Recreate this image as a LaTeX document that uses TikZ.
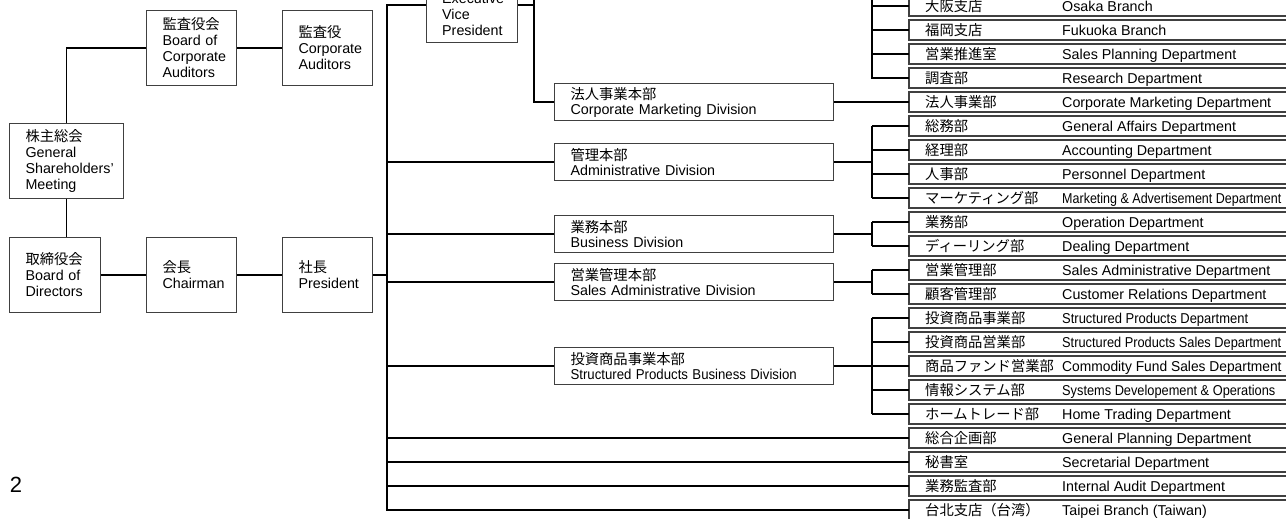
\documentclass[tikz,border=0pt]{standalone}
\usepackage{fontspec}
\setmainfont{Liberation Sans}
\newfontfamily\jp{Noto Sans CJK JP}
\hyphenpenalty=10000 \exhyphenpenalty=10000
\tikzset{
  conn/.style={line width=1.5pt, black},
  lbox/.style={draw=black!75, line width=1.1pt, inner xsep=16pt, inner ysep=0pt,
    minimum height=75pt, align=left, anchor=north west},
  dbox/.style={draw=black!75, line width=1.1pt, inner xsep=16pt, inner ysep=0pt,
    minimum height=37pt, text width=247pt, align=left, anchor=west,
    font=\fontsize{14.3}{15}\selectfont},
  rbox/.style={draw=black!75, line width=1.1pt, inner sep=0pt, outer sep=0pt, minimum width=420pt,
    minimum height=20pt, anchor=north west},
  rtxt/.style={inner sep=0pt, anchor=base west},
}
\begin{document}
\begin{tikzpicture}[x=1pt,y=-1pt, font=\fontsize{14.3}{16}\selectfont]
\useasboundingbox (0,0) rectangle (1286,519);
\clip (0,0) rectangle (1286,519);

% left boxes
\node[lbox, text width=82pt] (gsm) at (9,123) {{\jp 株主総会}\\General\\Shareholders’\\Meeting};
\node[lbox, text width=58pt] (bca) at (146,10) {{\jp 監査役会}\\Board of\\Corporate\\Auditors};
\node[lbox, text width=58pt] (ca) at (282,10) {{\jp 監査役}\\Corporate\\Auditors};
\node[lbox, text width=59pt] (bod) at (9,237) {{\jp 取締役会}\\Board of\\Directors};
\node[lbox, text width=58pt] (ch) at (146,237) {{\jp 会長}\\Chairman};
\node[lbox, text width=58pt] (pres) at (282,237) {{\jp 社長}\\President};

% executive vice president
\node[draw=black!75, line width=1.1pt, inner sep=0pt, minimum width=91pt, minimum height=75pt, anchor=west] (evp) at (426,5) {};
\node[inner sep=0pt, anchor=north west, align=left] (evpt) at (442,-7) {Executive\\Vice\\President};

% divisions
\node[dbox] (d1) at (554,102) {{\jp 法人事業本部}\\Corporate Marketing Division};
\node[dbox] (d2) at (554,162) {{\jp 管理本部}\\Administrative Division};
\node[dbox] (d3) at (554,234) {{\jp 業務本部}\\Business Division};
\node[dbox] (d4) at (554,282) {{\jp 営業管理本部}\\Sales Administrative Division};
\node[dbox] (d5) at (554,366) {{\jp 投資商品事業本部}\\\scalebox{0.924}[1]{Structured Products Business Division}};

% departments
\foreach \i/\ja/\en/\s in {
 0/大阪支店/Osaka Branch/1,
 1/福岡支店/Fukuoka Branch/1,
 2/営業推進室/Sales Planning Department/1,
 3/調査部/Research Department/1,
 4/法人事業部/Corporate Marketing Department/1,
 5/総務部/General Affairs Department/1,
 6/経理部/Accounting Department/1,
 7/人事部/Personnel Department/1,
 8/マーケティング部/Marketing \& Advertisement Department/0.875,
 9/業務部/Operation Department/1,
 10/ディーリング部/Dealing Department/1,
 11/営業管理部/Sales Administrative Department/1,
 12/顧客管理部/Customer Relations Department/1,
 13/投資商品事業部/Structured Products Department/0.907,
 14/投資商品営業部/Structured Products Sales Department/0.895,
 15/商品ファンド営業部/Commodity Fund Sales Department/0.965,
 16/情報システム部/Systems Developement \& Operations/0.894,
 17/ホームトレード部/Home Trading Department/1,
 18/総合企画部/General Planning Department/1,
 19/秘書室/Secretarial Department/1,
 20/業務監査部/Internal Audit Department/1,
 21/台北支店（台湾）/Taipei Branch (Taiwan)/1}
{
  \node[rbox] (r\i) at (909,{-4+24*\i}) {};
  \node[rtxt] (rj\i) at (925,{11.5+24*\i}) {\jp\ja};
  \node[rtxt] (re\i) at (1062,{11.5+24*\i}) {\scalebox{\s}[1]{\en}};
}

\node[inner sep=0pt] (pg) at (16,485) {\fontsize{22}{24}\selectfont 2};

% bus coordinates
\coordinate (mb) at (387,0);
\coordinate (eb) at (534,-10);
\coordinate (kb) at (872,-10);

% left connectors
\draw[conn] (gsm.north) |- (bca.west);
\draw[conn] (bca.east) -- (ca.west);
\draw[conn] (gsm.south) -- (gsm.south |- bod.north);
\draw[conn] (bod.east) -- (ch.west);
\draw[conn] (ch.east) -- (pres.west);

% main bus
\draw[conn] (evp.west) -| (mb |- r21.west) -- (r21.west);
\draw[conn] (pres.east) -- (mb |- pres.east);
\foreach \n in {d2,d3,d4,d5} \draw[conn] (mb |- \n.west) -- (\n.west);
\foreach \i in {18,19,20} \draw[conn] (mb |- r\i.west) -- (r\i.west);

% EVP branch
\draw[conn] (evp.east) -- (eb |- evp.east);
\draw[conn] (eb) |- (d1.west);
\draw[conn] (kb) |- (r3.west);
\foreach \i in {0,1,2} \draw[conn] (kb |- r\i.west) -- (r\i.west);
\draw[conn] (d1.east) -- (r4.west);

% division brackets
\draw[conn] (d2.east) -- (kb |- d2.east);
\draw[conn] (kb |- r5.west) -- (kb |- r8.west);
\foreach \i in {5,6,7,8} \draw[conn] (kb |- r\i.west) -- (r\i.west);
\draw[conn] (d3.east) -- (kb |- d3.east);
\draw[conn] (kb |- r9.west) -- (kb |- r10.west);
\foreach \i in {9,10} \draw[conn] (kb |- r\i.west) -- (r\i.west);
\draw[conn] (d4.east) -- (kb |- d4.east);
\draw[conn] (kb |- r11.west) -- (kb |- r12.west);
\foreach \i in {11,12} \draw[conn] (kb |- r\i.west) -- (r\i.west);
\draw[conn] (d5.east) -- (kb |- d5.east);
\draw[conn] (kb |- r13.west) -- (kb |- r17.west);
\foreach \i in {13,14,15,16,17} \draw[conn] (kb |- r\i.west) -- (r\i.west);
\end{tikzpicture}
\end{document}
